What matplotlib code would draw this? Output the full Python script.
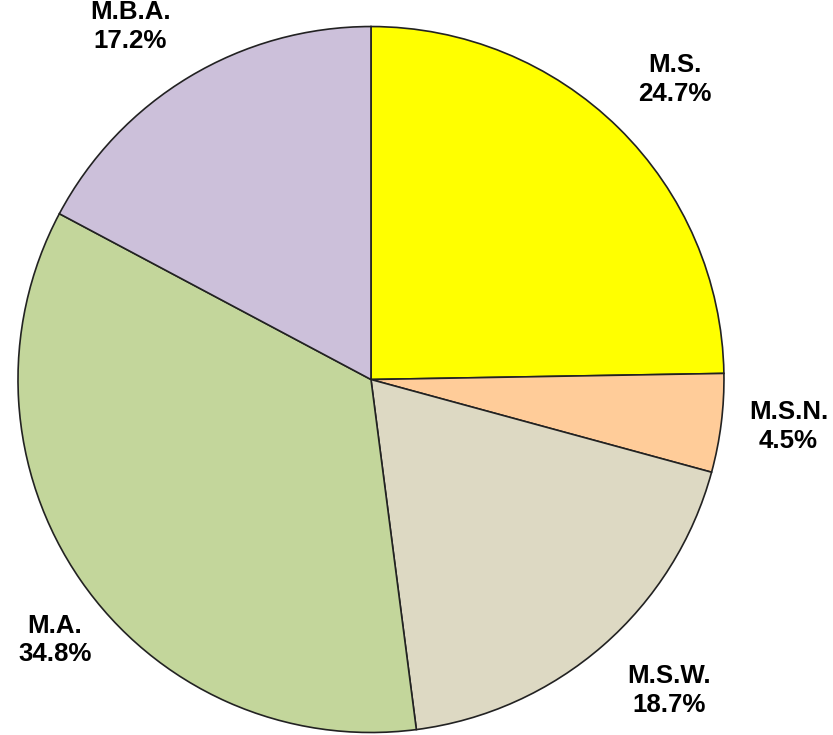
import numpy as np
import matplotlib
matplotlib.use("Agg")
from matplotlib import pyplot as plt

degrees = ["M.S.", "M.S.N.", "M.S.W.", "M.A.", "M.B.A."]
shares = [24.7, 4.5, 18.7, 34.8, 17.2]
colors = ["#FFFF00", "#FFCC99", "#DDD9C3", "#C3D69B", "#CCC0DA"]

# label placement (radius factor, angle nudge in degrees), tuned by eye
label_dist = [1.21, 1.19, 1.22, 1.16, 1.21]
label_nudge = [-0.9, 0.7, 2.7, 4.8, 3.3]

plt.rcParams["font.family"] = ["Liberation Sans", "DejaVu Sans"]

fig = plt.figure(figsize=(8.33, 7.35), dpi=100)
ax = fig.add_axes([0.0216, 0.0034, 0.8475, 0.9605])

wedges, _ = ax.pie(shares, colors=colors, startangle=90, counterclock=False,
                   radius=1.0, wedgeprops=dict(edgecolor="#222222", linewidth=1.2))

for w, name, val, d, nud in zip(wedges, degrees, shares, label_dist, label_nudge):
    mid = np.deg2rad((w.theta1 + w.theta2) / 2 + nud)
    ax.text(d * np.cos(mid), d * np.sin(mid), "%s\n%.1f%%" % (name, val),
            ha="center", va="center", fontsize=18.6, fontweight="bold",
            linespacing=1.25, color="black")

ax.set_xlim(-1, 1)
ax.set_ylim(-1, 1)
ax.set_aspect("equal")
ax.axis("off")

fig.savefig("out.png", dpi=100)
